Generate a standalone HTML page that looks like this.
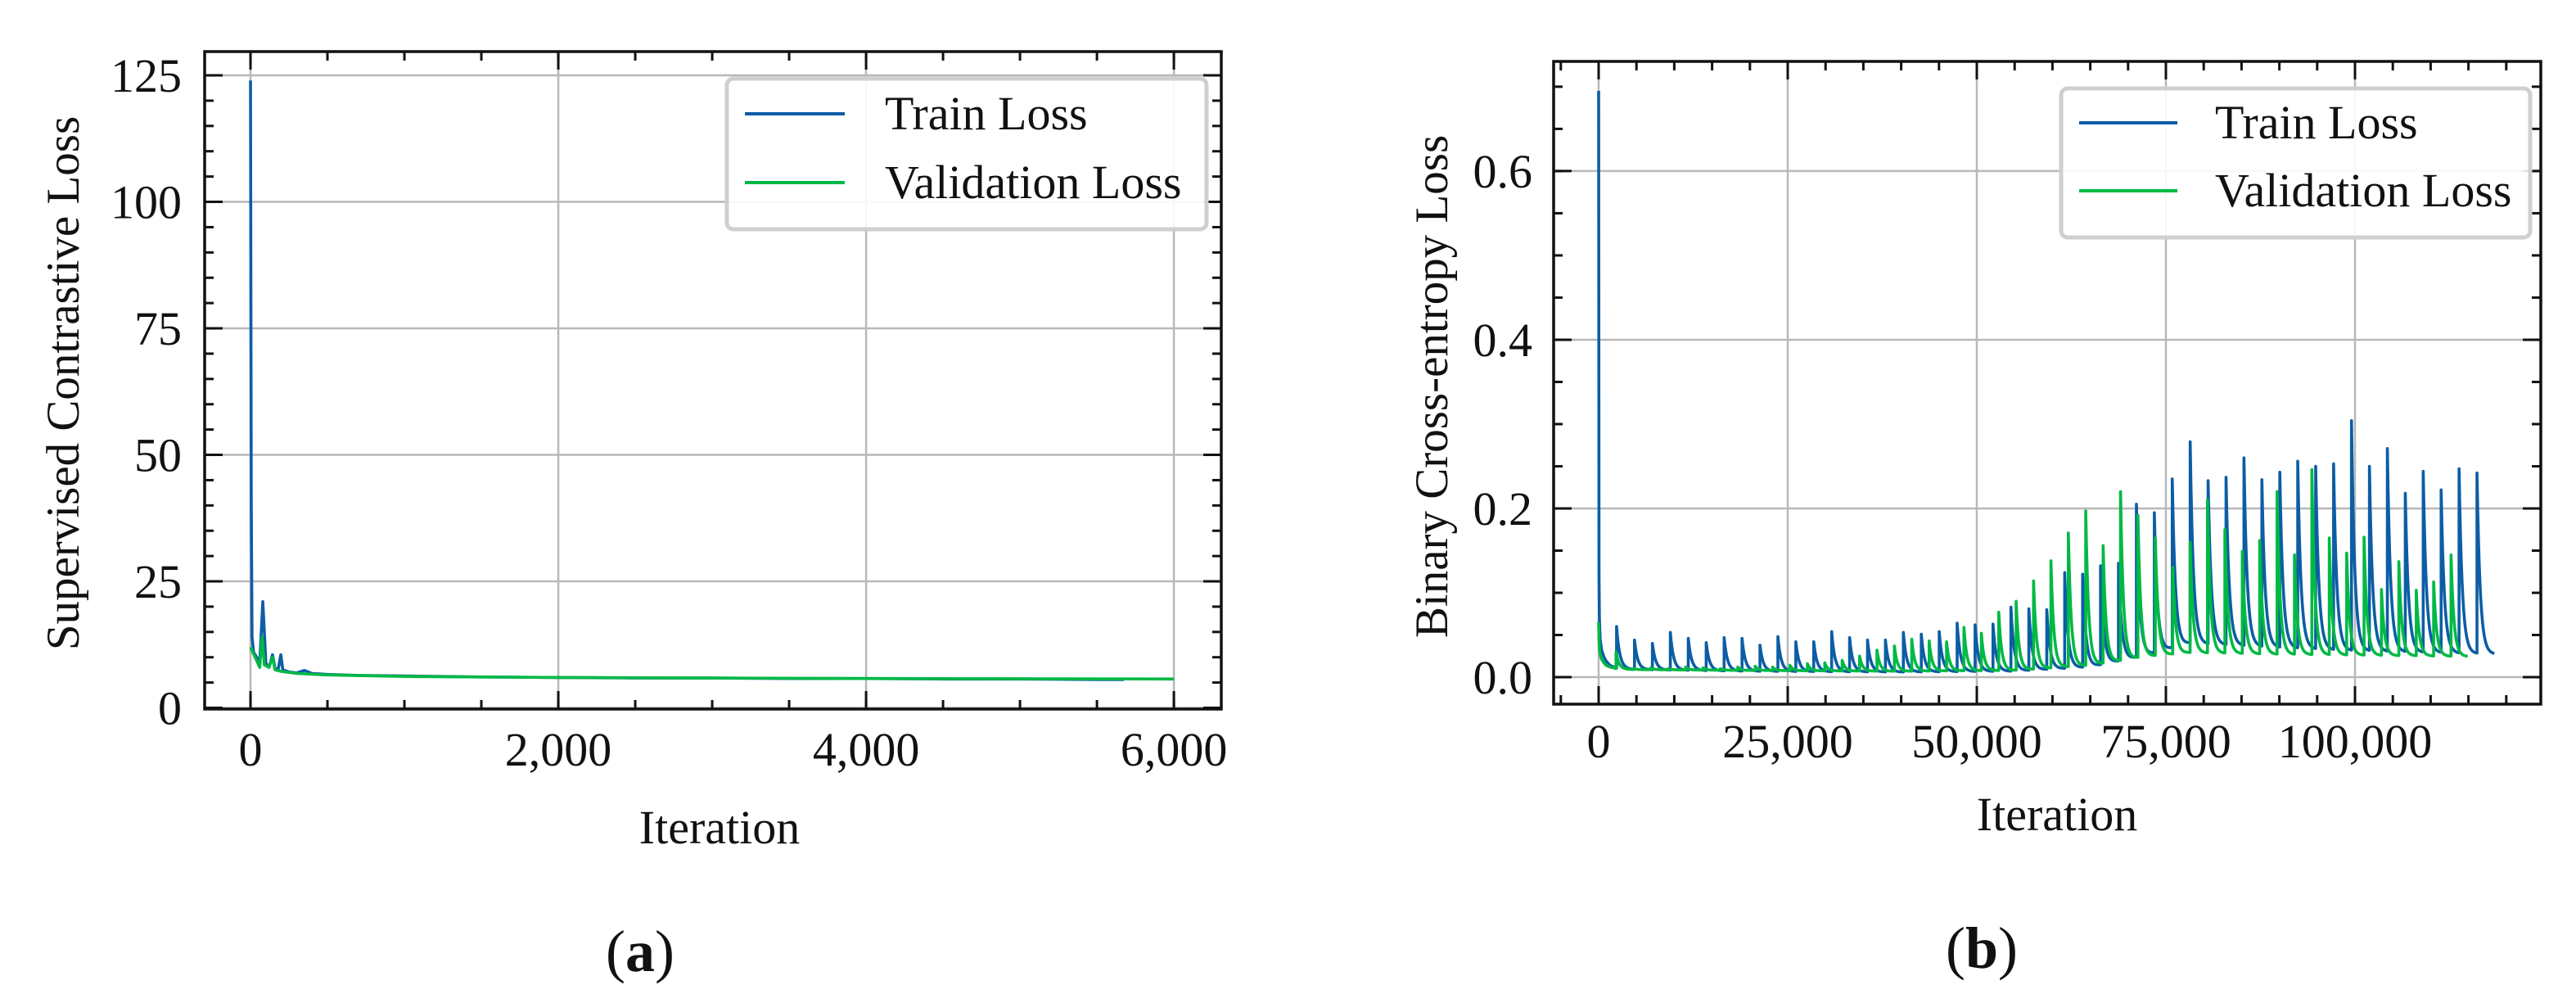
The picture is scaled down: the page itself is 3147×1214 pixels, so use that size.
<!DOCTYPE html>
<html><head><meta charset="utf-8"><title>Loss curves</title>
<style>
html,body{margin:0;padding:0;background:#fff;}
svg{display:block;font-family:"Liberation Serif","Times New Roman",serif;}
</style></head>
<body>
<svg id="fig" xmlns="http://www.w3.org/2000/svg" width="3147" height="1214" viewBox="0 0 3147 1214"></svg>
<script>
// ---------- Chart (a) data ----------
const aTrainIter = [0,5,10,20,40,60,70,80,100,120,130,143,160,180,197,210,250,300,350,400,500,700,1000,1500,2000,2500,3000,3500,4000,4500,5000,5500,5675];
const aTrainLoss = [124,40,14,11,10,9,15,21,8.8,8,9,10.5,7.8,7.6,10.5,7.5,7.1,6.9,7.4,6.8,6.6,6.4,6.3,6.1,6.0,5.9,5.9,5.8,5.8,5.7,5.7,5.6,5.6];
const aValIter = [0,30,60,75,90,120,143,160,200,300,500,1000,2000,3000,4000,5000,6000];
const aValLoss = [12,10,8,14,8.5,8,10,7.5,7.2,6.8,6.5,6.2,6.0,5.9,5.8,5.75,5.7];
const aXTicks = [0,2000,4000,6000];
const aXTickLabels = ["0","2,000","4,000","6,000"];
const aYTicks = [0,25,50,75,100,125];
const aYTickLabels = ["0","25","50","75","100","125"];

// ---------- Chart (b) data ----------
const bTrainEarlyIter = [0,50,100,200,400,700,1000,1500,2000,2369];
const bTrainEarly = [0.695,0.12,0.07,0.045,0.032,0.024,0.019,0.014,0.012,0.011];
const bValEarlyIter = [0,50,100,200,400,700,1000,1500,2000,2299];
const bValEarly = [0.065,0.045,0.035,0.027,0.021,0.017,0.014,0.012,0.011,0.010];
const bTrainSpikeStep = 2370;
const bValSpikeStep = 2300;
const bTrainEnd = 118500;
const bValEnd = 115000;
const bTrainPeaks = [0.060,0.044,0.040,0.053,0.046,0.041,0.047,0.046,0.038,0.048,0.042,0.042,0.054,0.047,0.044,0.044,0.053,0.051,0.054,0.064,0.062,0.063,0.083,0.081,0.080,0.124,0.122,0.132,0.135,0.205,0.195,0.235,0.279,0.233,0.237,0.260,0.234,0.243,0.256,0.250,0.253,0.304,0.250,0.271,0.218,0.244,0.222,0.247,0.242];
const bValPeaks = [0.030,0.010,0.011,0.010,0.012,0.011,0.010,0.012,0.013,0.012,0.014,0.016,0.017,0.020,0.025,0.032,0.037,0.045,0.043,0.042,0.059,0.052,0.077,0.090,0.114,0.138,0.171,0.197,0.156,0.220,0.192,0.165,0.130,0.160,0.210,0.175,0.149,0.162,0.220,0.145,0.246,0.165,0.147,0.166,0.104,0.137,0.103,0.113,0.145];
const bBaseIter = [0,5000,20000,40000,55000,65000,72000,78000,90000,100000,110000,119000];
const bTrainBase = [0.011,0.009,0.007,0.006,0.007,0.012,0.025,0.040,0.035,0.031,0.029,0.027];
const bValBase = [0.010,0.009,0.008,0.007,0.008,0.014,0.024,0.029,0.027,0.026,0.025,0.024];
const bXTicks = [0,25000,50000,75000,100000];
const bXTickLabels = ["0","25,000","50,000","75,000","100,000"];
const bYTicks = [0,0.2,0.4,0.6];
const bYTickLabels = ["0.0","0.2","0.4","0.6"];

const NS = "http://www.w3.org/2000/svg";
const svg = document.getElementById('fig');
function mk(tag, attrs, parent){
  const e = document.createElementNS(NS, tag);
  for (const k in attrs) e.setAttribute(k, attrs[k]);
  (parent||svg).appendChild(e);
  return e;
}
function interp(xs, ys, x){
  if (x <= xs[0]) return ys[0];
  for (let i=1;i<xs.length;i++){
    if (x <= xs[i]){ const t=(x-xs[i-1])/(xs[i]-xs[i-1]); return ys[i-1]+t*(ys[i]-ys[i-1]); }
  }
  return ys[ys.length-1];
}

function drawAxes(cfg){
  const g = mk('g', {});
  
  
  const sx = v => cfg.L + (v-cfg.xmin)/(cfg.xmax-cfg.xmin)*(cfg.R-cfg.L);
  const sy = v => cfg.B - (v-cfg.ymin)/(cfg.ymax-cfg.ymin)*(cfg.B-cfg.T);
  cfg.xTicks.forEach(v=>{
    const l = mk('line',{x1:sx(v),x2:sx(v),y1:cfg.T,y2:cfg.B,stroke:'#b8b8b8','stroke-width':2.5},g);
    
    
  });
  cfg.yTicks.forEach(v=>{
    const l = mk('line',{x1:cfg.L,x2:cfg.R,y1:sy(v),y2:sy(v),stroke:'#b8b8b8','stroke-width':2.5},g);
    
    
  });
  cfg.series.forEach(s=>{
    let d='';
    s.pts.forEach((p,i)=>{ d += (i?'L':'M') + sx(p[0]).toFixed(2) + ' ' + sy(p[1]).toFixed(2); });
    const path = mk('path',{d:d,fill:'none',stroke:s.color,'stroke-width':3.6,'stroke-linejoin':'round'},g);
    
    
  });
  const tk = mk('g',{stroke:'#111','stroke-width':3},g);
  
  
  const tick = (x1,y1,x2,y2)=>mk('line',{x1:x1,y1:y1,x2:x2,y2:y2},tk);
  cfg.xMinor.forEach(v=>{ const x=sx(v); if(x<cfg.L||x>cfg.R) return; tick(x,cfg.B,x,cfg.B-11); tick(x,cfg.T,x,cfg.T+11); });
  cfg.xTicks.forEach(v=>{ const x=sx(v); tick(x,cfg.B,x,cfg.B-22); tick(x,cfg.T,x,cfg.T+22); });
  cfg.yMinor.forEach(v=>{ const y=sy(v); if(y<cfg.T||y>cfg.B) return; tick(cfg.L,y,cfg.L+11,y); tick(cfg.R,y,cfg.R-11,y); });
  cfg.yTicks.forEach(v=>{ const y=sy(v); tick(cfg.L,y,cfg.L+22,y); tick(cfg.R,y,cfg.R-22,y); });
  const fr = mk('rect',{x:cfg.L,y:cfg.T,width:cfg.R-cfg.L,height:cfg.B-cfg.T,fill:'none',stroke:'#111','stroke-width':3.5},g);
  
  
  cfg.xTicks.forEach((v,i)=>{
    const t = mk('text',{x:sx(v),y:cfg.xLabelY,'text-anchor':'middle','font-size':58,fill:'#111'},g);
    t.textContent = cfg.xTickLabels[i];
    
    
  });
  cfg.yTicks.forEach((v,i)=>{
    const t = mk('text',{x:cfg.yLabelX,y:sy(v)+20,'text-anchor':'end','font-size':58,fill:'#111'},g);
    t.textContent = cfg.yTickLabels[i];
    
    
  });
  const xt = mk('text',{x:cfg.xTitleX,y:cfg.xTitleY,'text-anchor':'middle','font-size':58,fill:'#111'},g);
  xt.textContent = 'Iteration';
  
  
  const yt = mk('text',{x:0,y:0,'text-anchor':'middle','font-size':57,fill:'#111',transform:'translate('+cfg.yTitleX+','+cfg.yTitleY+') rotate(-90)'},g);
  yt.textContent = cfg.yTitle;
  
  
  const lg = mk('g',{},g);
  
  
  const lb = cfg.legend;
  const box = mk('rect',{x:lb.x,y:lb.y,width:lb.w,height:lb.h,rx:8,fill:'#fff','fill-opacity':0.9,stroke:'#cfcfcf','stroke-width':5},lg);
  
  
  cfg.series.forEach((s,i)=>{
    const y = lb.rowY[i];
    const ln = mk('line',{x1:lb.lx1,x2:lb.lx2,y1:y,y2:y,stroke:s.color,'stroke-width':4},lg);
    
    
    const tx = mk('text',{x:lb.tx,y:y+19,'font-size':58,fill:'#111'},lg);
    tx.textContent = s.label;
    
    
  });
}

function range(a,b,s){ const r=[]; for(let v=a; v<=b+1e-9; v+=s) r.push(+v.toFixed(6)); return r; }

const aTrainPts = aTrainIter.map((x,i)=>[x,aTrainLoss[i]]);
const aValPts = aValIter.map((x,i)=>[x,aValLoss[i]]);
drawAxes({
  name:'chart-a', L:250, R:1492, T:63, B:866,
  xmin:-298, xmax:6308, ymin:-0.24, ymax:129.7,
  xTicks:aXTicks, xTickLabels:aXTickLabels, xMinor:range(0,6000,500),
  yTicks:aYTicks, yTickLabels:aYTickLabels, yMinor:range(0,125,5),
  xLabelY:935, yLabelX:222, xTitleX:879, xTitleY:1030, yTitleX:96, yTitleY:468,
  yTitle:'Supervised Contrastive Loss',
  series:[
    {name:'train-loss-line',label:'Train Loss',color:'#0C5DA5',pts:aTrainPts},
    {name:'validation-loss-line',label:'Validation Loss',color:'#00B945',pts:aValPts}
  ],
  legend:{x:888,y:96,w:586,h:184,lx1:910,lx2:1032,rowY:[139,223],tx:1081}
});

function buildSeries(earlyIter, early, peaks, step, end, baseVals, tau){
  const pts = earlyIter.map((x,i)=>[x,early[i]]);
  let prevV = early[early.length-1];
  for (let k=1; k<=peaks.length; k++){
    const t0 = k*step;
    if (t0 > end) break;
    pts.push([t0-1, prevV]);
    const peak = peaks[k-1];
    const tEnd = Math.min((k+1)*step-1, end);
    for (let t=t0; t<=tEnd; t+=100){
      const base = interp(bBaseIter, baseVals, t);
      const v = base + (peak-base)*Math.exp(-(t-t0)/tau);
      pts.push([t,v]);
      prevV = v;
    }
  }
  return pts;
}
const bTrainPts = buildSeries(bTrainEarlyIter,bTrainEarly,bTrainPeaks,bTrainSpikeStep,bTrainEnd,bTrainBase,420);
const bValPts = buildSeries(bValEarlyIter,bValEarly,bValPeaks,bValSpikeStep,bValEnd,bValBase,380);
drawAxes({
  name:'chart-b', L:1898, R:3104, T:75, B:860,
  xmin:-5952, xmax:124567, ymin:-0.032, ymax:0.730,
  xTicks:bXTicks, xTickLabels:bXTickLabels, xMinor:range(-5000,120000,5000),
  yTicks:bYTicks, yTickLabels:bYTickLabels, yMinor:range(0,0.7,0.05),
  xLabelY:925, yLabelX:1872, xTitleX:2513, xTitleY:1014, yTitleX:1768, yTitleY:472,
  yTitle:'Binary Cross-entropy Loss',
  series:[
    {name:'train-loss-line',label:'Train Loss',color:'#0C5DA5',pts:bTrainPts},
    {name:'validation-loss-line',label:'Validation Loss',color:'#00B945',pts:bValPts}
  ],
  legend:{x:2518,y:108,w:573,h:182,lx1:2540,lx2:2660,rowY:[150,233],tx:2706}
});

const ca = mk('text',{x:782,y:1186,'text-anchor':'middle','font-size':72,fill:'#111'});
ca.innerHTML = '(<tspan font-weight="bold">a</tspan>)';


const cb = mk('text',{x:2421,y:1182,'text-anchor':'middle','font-size':72,fill:'#111'});
cb.innerHTML = '(<tspan font-weight="bold">b</tspan>)';


</script>
</body></html>
